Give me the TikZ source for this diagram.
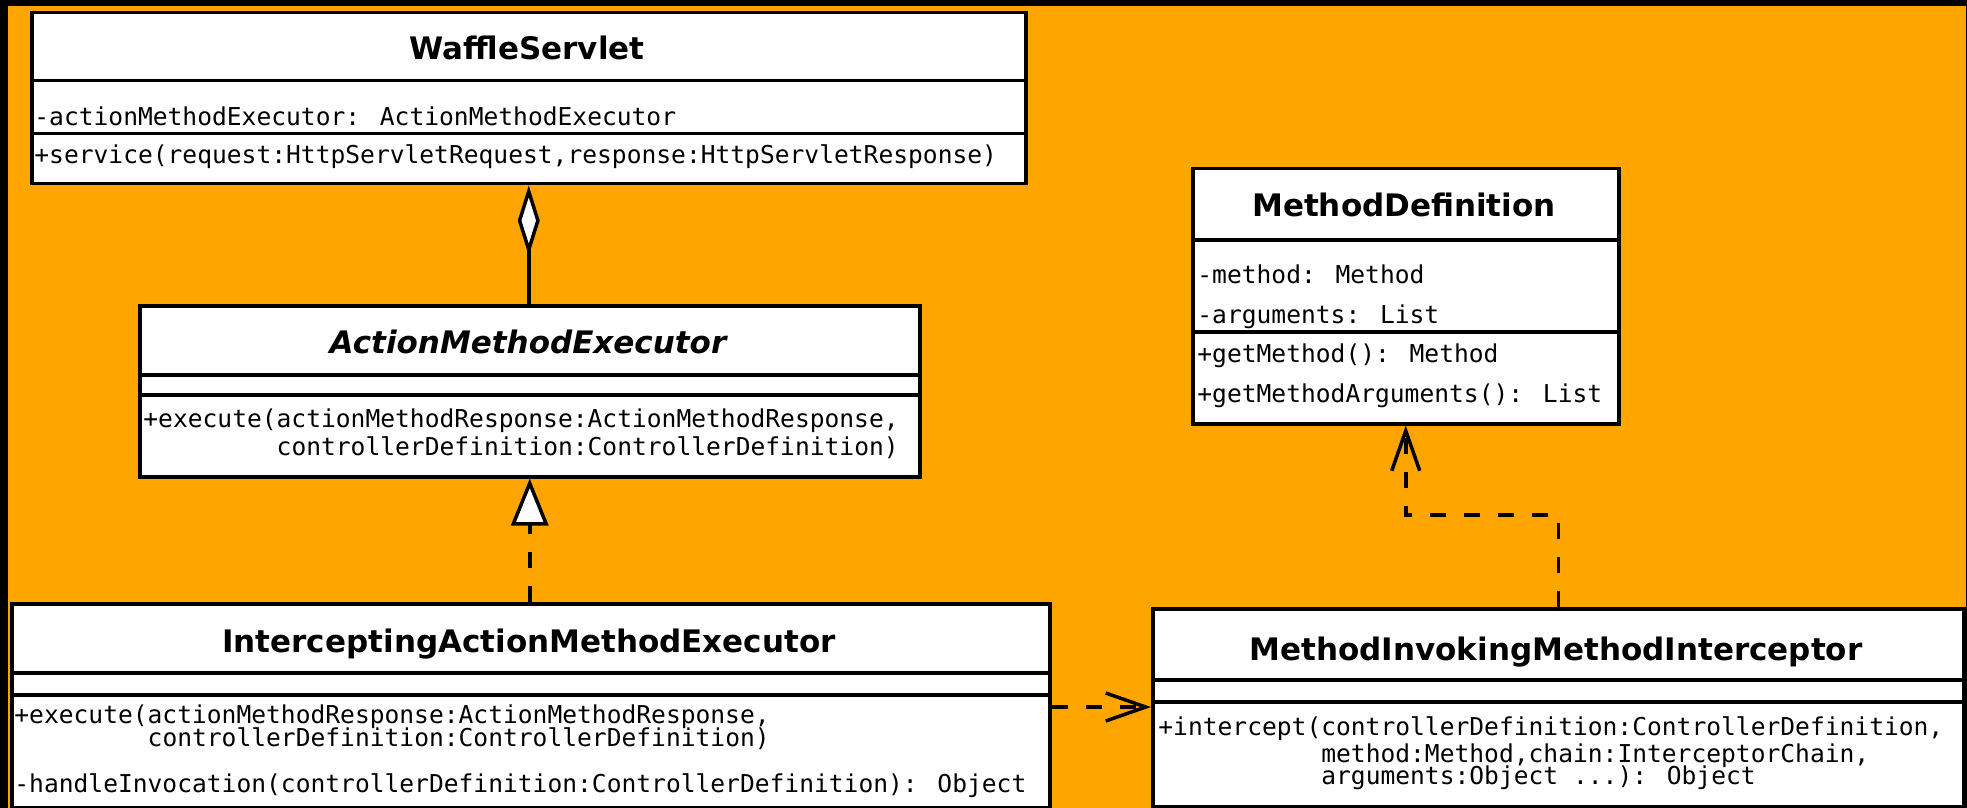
\documentclass[tikz,border=0pt]{standalone}
\usepackage{fontspec}
\usetikzlibrary{arrows.meta,positioning}

\newfontfamily\namefont{DejaVu Sans}
\newfontfamily\memberfont{DejaVu Sans Mono}
\definecolor{diagrambg}{HTML}{FFA500}

\newcommand*\px{0.5pt}
\tikzset{compartment/.style 2 args={
    draw,
    line width=3.5*\px,
    fill=white,
    rectangle,
    anchor=north west,
    inner sep=0pt,
    minimum width=#1*\px,
    minimum height=#2*\px
}}
\tikzset{
    classname/.style={anchor=base, inner sep=0pt,
        font=\namefont\bfseries\fontsize{15.5pt}{18pt}\selectfont},
    member/.style={anchor=base west, inner sep=0pt,
        font=\memberfont\fontsize{12.3pt}{14pt}\selectfont},
    connector/.style={line width=3.5*\px},
    aggregation/.style={connector, {Diamond[fill=white, length=35pt, width=11pt]}-},
    realization/.style={connector, dash pattern=on 8pt off 9pt,
        -{Triangle[fill=white, length=23.5pt, width=18.5pt]}},
    dependency/.style={connector, dash pattern=on 8pt off 9pt,
        -{Straight Barb[length=20pt, width=14pt]}}
}

\begin{document}
\begin{tikzpicture}[x=\px,y=-\px]

    % Background with its black frame.
    \fill[black] (0,0) rectangle (1967,808);
    \fill[diagrambg] (8,6) rectangle (1966,808);
    \useasboundingbox (0,0) rectangle (1967,808);

    % WaffleServlet
    \node[compartment={994}{68}] (wstitle) at (30,11) {};
    \node[compartment={994}{53}] (wsattr) at (30,79) {};
    \node[compartment={994}{50}] (wsops) at (30,132) {};
    \node[classname] (wsname) at (527,60) {WaffleServlet};
    \node[member] (wsfield) at (34,126) {-actionMethodExecutor: ActionMethodExecutor};
    \node[member] (wsservice) at (34,164) {+service(request:HttpServletRequest,response:HttpServletResponse)};

    % ActionMethodExecutor
    \node[compartment={780}{69}] (ametitle) at (138,304) {};
    \node[compartment={780}{20}] (ameattr) at (138,373) {};
    \node[compartment={780}{82}] (ameops) at (138,393) {};
    \node[classname] (amename) at (528,353) {\itshape ActionMethodExecutor};
    \node[member] (ameexec) at (143,427) {+execute(actionMethodResponse:ActionMethodResponse,};
    \node[member] (ameexecb) at (143,455) {\phantom{+execute(}controllerDefinition:ControllerDefinition)};

    % InterceptingActionMethodExecutor
    \node[compartment={1038}{69}] (iametitle) at (10,602) {};
    \node[compartment={1038}{22}] (iameattr) at (10,671) {};
    \node[compartment={1038}{113}] (iameops) at (10,693) {};
    \node[classname] (iamename) at (529,652) {InterceptingActionMethodExecutor};
    \node[member] (iameexec) at (14,723) {+execute(actionMethodResponse:ActionMethodResponse,};
    \node[member] (iameexecb) at (14,746) {\phantom{+execute(}controllerDefinition:ControllerDefinition)};
    \node[member] (iamehandle) at (14,792) {-handleInvocation(controllerDefinition:ControllerDefinition): Object};

    % MethodDefinition
    \node[compartment={426}{71}] (mdtitle) at (1191,167) {};
    \node[compartment={426}{92}] (mdattr) at (1191,238) {};
    \node[compartment={426}{92}] (mdops) at (1191,330) {};
    \node[classname] (mdname) at (1404,217) {MethodDefinition};
    \node[member] (mdmethod) at (1197,283) {-method: Method};
    \node[member] (mdargs) at (1197,323) {-arguments: List};
    \node[member] (mdgetmethod) at (1197,362) {+getMethod(): Method};
    \node[member] (mdgetargs) at (1197,402) {+getMethodArguments(): List};

    % MethodInvokingMethodInterceptor
    \node[compartment={811}{71}] (mimititle) at (1151,607) {};
    \node[compartment={811}{22}] (mimiattr) at (1151,678) {};
    \node[compartment={811}{105}] (mimiops) at (1151,700) {};
    \node[classname] (miminame) at (1556,660) {MethodInvokingMethodInterceptor};
    \node[member] (mimiintercept) at (1158,735) {+intercept(controllerDefinition:ControllerDefinition,};
    \node[member] (mimiinterceptb) at (1158,762) {\phantom{+intercept(}method:Method,chain:InterceptorChain,};
    \node[member] (mimiinterceptc) at (1158,784) {\phantom{+intercept(}arguments:Object ...): Object};

    % Draw the relations.
    \draw[aggregation] (wsops.south) -- (wsops.south |- ametitle.north);
    \draw[realization] (ameops.south |- iametitle.north) -- (ameops.south);
    \coordinate (depstart) at ([yshift=-7pt]iameops.north east);
    \draw[dependency] (depstart) -- (depstart -| mimiops.west);
    \draw[dependency] (mimititle.north) -- ++(0,-92) -| (mdops.south);

\end{tikzpicture}
\end{document}
